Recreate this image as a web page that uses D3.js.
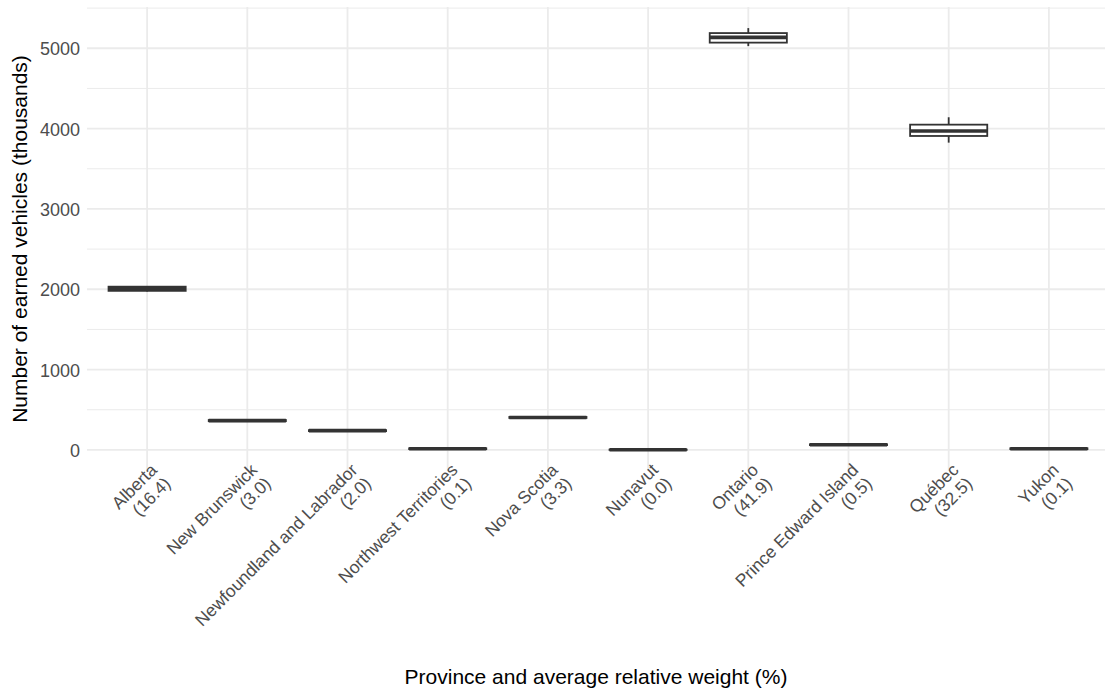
<!DOCTYPE html>
<html>
<head>
<meta charset="utf-8">
<script src="https://cdn.jsdelivr.net/npm/d3@7"></script>
<style>
  body { margin: 0; background: #fff; }
  svg { display: block; font-family: "Liberation Sans", Arial, sans-serif; }
</style>
</head>
<body>
<svg id="chart" width="1105" height="691"></svg>
<script>
const categories = ["Alberta", "New Brunswick", "Newfoundland and Labrador", "Northwest Territories",
  "Nova Scotia", "Nunavut", "Ontario", "Prince Edward Island", "Québec", "Yukon"];
const weights = ["16.4", "3.0", "2.0", "0.1", "3.3", "0.0", "41.9", "0.5", "32.5", "0.1"];
const whiskerLow  = [1972, 352, 228, 6, 392, 0, 5027, 54, 3825, 6];
const boxQ1       = [1980, 358, 234, 10, 398, 0, 5070, 60, 3908, 10];
const boxMedian   = [2006, 365, 240, 15, 404, 2, 5136, 65, 3970, 15];
const boxQ3       = [2032, 372, 246, 20, 410, 4, 5189, 70, 4049, 20];
const whiskerHigh = [2040, 378, 252, 24, 416, 6, 5251, 76, 4141, 24];
const yMajorTicks = [0, 1000, 2000, 3000, 4000, 5000];
const yMinorTicks = [500, 1500, 2500, 3500, 4500, 5500];
const xTitle = "Province and average relative weight (%)";
const yTitle = "Number of earned vehicles (thousands)";

const data = categories.map((c, i) => ({
  name: c, weight: weights[i], lo: whiskerLow[i], q1: boxQ1[i], med: boxMedian[i],
  q3: boxQ3[i], hi: whiskerHigh[i]
}));

const svg = d3.select("#chart");
const panel = { left: 87, right: 1109, top: 7, bottom: 471 };

const step = (panel.right - panel.left) / (categories.length - 1 + 1.2);
const xc = d3.scalePoint().domain(categories)
  .range([panel.left + 0.6 * step, panel.right - 0.6 * step]);

const dataMin = d3.min(whiskerLow), dataMax = d3.max(whiskerHigh);
const pad = (dataMax - dataMin) * 0.05;
const y = d3.scaleLinear().domain([dataMin - pad, dataMax + pad])
  .range([panel.bottom, panel.top]);

const grid = svg.append("g");
grid.selectAll("line.minor").data(yMinorTicks.filter(v => y(v) >= panel.top - 1)).join("line")
  .attr("x1", panel.left).attr("x2", panel.right)
  .attr("y1", d => y(d)).attr("y2", d => y(d))
  .attr("stroke", "#ebebeb").attr("stroke-width", 1);
grid.selectAll("line.major").data(yMajorTicks).join("line")
  .attr("x1", panel.left).attr("x2", panel.right)
  .attr("y1", d => y(d)).attr("y2", d => y(d))
  .attr("stroke", "#ebebeb").attr("stroke-width", 1.8);
grid.selectAll("line.vmajor").data(categories).join("line")
  .attr("x1", d => xc(d)).attr("x2", d => xc(d))
  .attr("y1", panel.top).attr("y2", panel.bottom)
  .attr("stroke", "#ebebeb").attr("stroke-width", 1.8);

// y tick labels
const yAxis = d3.axisLeft(y).tickValues(yMajorTicks).tickFormat(d3.format("d")).tickSize(0).tickPadding(0);
const ya = svg.append("g").attr("transform", `translate(${panel.left - 7},0)`).call(yAxis);
ya.select(".domain").remove();
ya.selectAll("text").attr("fill", "#4d4d4d").style("font-size", "18px")
  .style("font-family", "'Liberation Sans', Arial, sans-serif").attr("dy", "0.36em");

// boxes
const boxW = step * 0.77;
const col = "#333333";
const g = svg.append("g");
const b = g.selectAll("g.box").data(data).join("g");
b.append("line").attr("x1", d => xc(d.name)).attr("x2", d => xc(d.name))
  .attr("y1", d => y(d.hi)).attr("y2", d => y(d.q3)).attr("stroke", col).attr("stroke-width", 1.8);
b.append("line").attr("x1", d => xc(d.name)).attr("x2", d => xc(d.name))
  .attr("y1", d => y(d.q1)).attr("y2", d => y(d.lo)).attr("stroke", col).attr("stroke-width", 1.8);
b.append("rect").attr("x", d => xc(d.name) - boxW / 2).attr("width", boxW)
  .attr("y", d => y(d.q3)).attr("height", d => Math.max(0, y(d.q1) - y(d.q3)))
  .attr("fill", "#fff").attr("stroke", col).attr("stroke-width", 1.8);
b.append("line").attr("x1", d => xc(d.name) - boxW / 2).attr("x2", d => xc(d.name) + boxW / 2)
  .attr("y1", d => y(d.med)).attr("y2", d => y(d.med)).attr("stroke", col).attr("stroke-width", 3.6);

// x labels
const xl = svg.append("g");
data.forEach(d => {
  const t = xl.append("text")
    .attr("transform", `translate(${xc(d.name) + 11},${panel.bottom}) rotate(-45)`)
    .attr("text-anchor", "end").attr("fill", "#4d4d4d").style("font-size", "17.5px");
  t.append("tspan").attr("x", 0).attr("dy", "0").text(d.name);
  t.append("tspan").attr("x", 0).attr("dy", "1.1em").text(`(${d.weight})`);
});

// titles
svg.append("text").attr("x", (panel.left + 1105) / 2).attr("y", 684)
  .attr("text-anchor", "middle").attr("fill", "#000").style("font-size", "21px").text(xTitle);
svg.append("text").attr("transform", `translate(27,${(panel.top + panel.bottom) / 2}) rotate(-90)`)
  .attr("text-anchor", "middle").attr("fill", "#000").style("font-size", "21px").text(yTitle);
</script>
</body>
</html>
